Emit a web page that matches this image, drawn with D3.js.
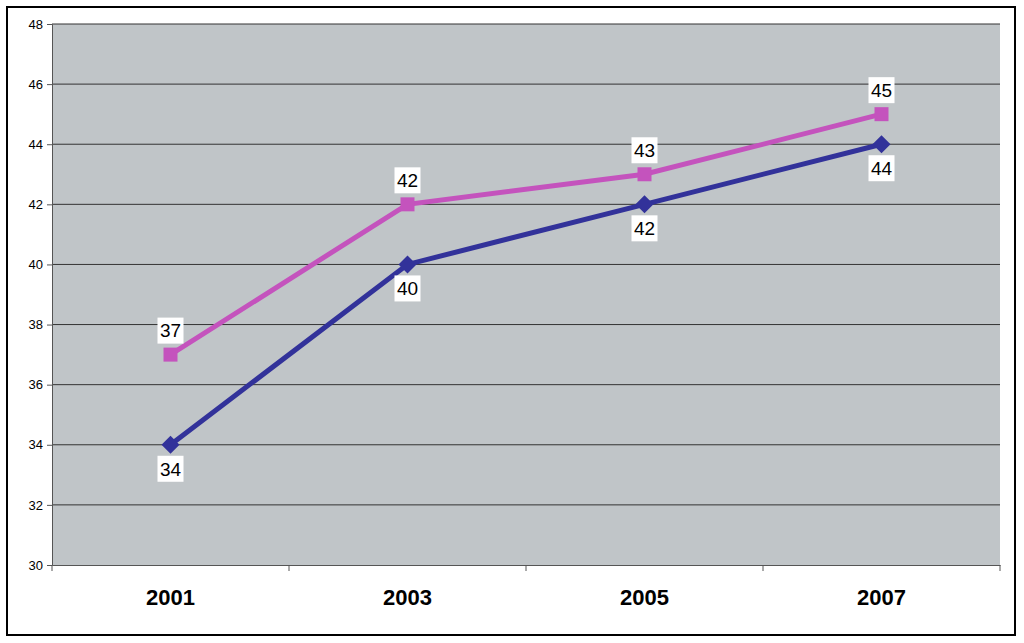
<!DOCTYPE html>
<html><head><meta charset="utf-8">
<script src="https://cdn.jsdelivr.net/npm/d3@7"></script>
<style>body{margin:0;background:#fff;}svg{display:block;font-family:Arial,"Liberation Sans",sans-serif;}</style>
</head><body><svg id="c" width="1024" height="643"></svg>
<script>
const categories = ["2001","2003","2005","2007"];
const seriesPink = [37,42,43,45];
const seriesBlue = [34,40,42,44];
const yTicks = [30,32,34,36,38,40,42,44,46,48];

const svg = d3.select("#c");
svg.append("rect").attr("x",7).attr("y",7).attr("width",1008).attr("height",628)
  .attr("fill","#fff").attr("stroke","#000").attr("stroke-width",2);

const L=52,R=1000,T=24,B=565;
const x = d3.scaleBand().domain(categories).range([L,R]);
const y = d3.scaleLinear().domain([30,48]).range([B,T]);

svg.append("rect").attr("x",L).attr("y",T).attr("width",R-L).attr("height",B-T).attr("fill","#c0c5c8");

const grid = svg.append("g");
grid.selectAll("line").data(yTicks.slice(1)).join("line")
  .attr("x1",L).attr("x2",R).attr("y1",d=>y(d)).attr("y2",d=>y(d))
  .attr("stroke","#333").attr("stroke-width",1);

const ya = svg.append("g").attr("transform",`translate(${L},0)`)
  .call(d3.axisLeft(y).tickValues(yTicks).tickSize(5).tickPadding(4));
ya.select(".domain").attr("stroke","#555");
ya.selectAll(".tick line").attr("stroke","#555");
ya.selectAll("text").attr("font-size",13).attr("fill","#000");

const xa = svg.append("g").attr("transform",`translate(0,${B})`)
  .call(d3.axisBottom(x).tickSize(0).tickPadding(24));
xa.select(".domain").attr("stroke","#555");
xa.selectAll("text").attr("font-size",22).attr("font-weight","bold").attr("fill","#000");
svg.append("g").selectAll("line").data(d3.range(categories.length+1)).join("line")
  .attr("x1",i=>L+i*x.step()).attr("x2",i=>L+i*x.step())
  .attr("y1",B).attr("y2",B+6).attr("stroke","#555");

const cx = c => x(c)+x.bandwidth()/2;
const line = d3.line().x((d,i)=>cx(categories[i])).y(d=>y(d));

function series(vals,color,shape,dy){
  svg.append("path").datum(vals).attr("d",line).attr("fill","none")
    .attr("stroke",color).attr("stroke-width",5);
  svg.append("g").selectAll("path").data(vals).join("path")
    .attr("transform",(d,i)=>`translate(${cx(categories[i])},${y(d)})`)
    .attr("d", shape==="square" ? "M-7,-7H7V7H-7Z" : "M0,-9L9,0L0,9L-9,0Z")
    .attr("fill",color);
  const g = svg.append("g").selectAll("g").data(vals).join("g")
    .attr("transform",(d,i)=>`translate(${cx(categories[i])},${y(d)+dy})`);
  g.append("rect").attr("x",-13).attr("y",-13).attr("width",26).attr("height",26).attr("fill","#fff");
  g.append("text").attr("text-anchor","middle").attr("dy","0.36em").attr("font-size",19).text(d=>d);
}
series(seriesPink,"#c453bd","square",-24);
series(seriesBlue,"#32329a","diamond",24);
</script></body></html>
